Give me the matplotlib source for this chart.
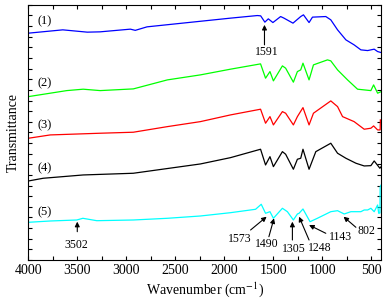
import numpy as np
import matplotlib
matplotlib.use("Agg")
from matplotlib import pyplot as plt
from matplotlib.ticker import MultipleLocator, NullFormatter

plt.rcParams['font.family'] = ['Liberation Serif', 'DejaVu Serif']
plt.rcParams['mathtext.fontset'] = 'stix'

# spectra: wavenumber (cm-1) and transmittance (arb. units, offset)
wn1 = [4000, 3650, 3400, 3270, 2960, 2910, 2790, 2350, 1938, 1664, 1630, 1587, 1552,
       1505, 1426, 1392, 1300, 1221, 1193, 1136, 1101, 965, 914, 845, 760, 676, 607,
       538, 471, 436, 400]
t1 = [226.7, 230, 227.7, 228, 230.7, 229.5, 233, 237.5, 241.7, 244.3, 244, 237.7, 241,
      237.3, 243.3, 241.7, 236.7, 243.3, 245, 237.3, 242.7, 243.3, 240, 230, 220, 215, 210,
      209.3, 210.7, 208.3, 207.3]

wn2 = [4000, 3609, 3442, 3268, 2930, 2582, 2245, 1938, 1631, 1580, 1535, 1500, 1408,
       1375, 1296, 1255, 1221, 1198, 1136, 1091, 948, 914, 845, 743, 641, 573, 505, 477,
       436, 400]
t2 = [163.3, 169.3, 170.7, 169.3, 171, 180, 185, 190.7, 196, 181.7, 188.3, 179, 194,
      191.7, 177.7, 188.3, 190, 196.7, 180, 195, 200, 199, 190, 180, 170.7, 170, 169.3, 175,
      166.7, 168.3]

wn3 = [4000, 3778, 3268, 2930, 2582, 2245, 1938, 1631, 1580, 1535, 1500, 1408, 1375,
       1296, 1255, 1198, 1136, 1091, 914, 845, 794, 676, 573, 505, 477, 436, 410, 408]
t3 = [121.7, 125, 126.7, 127.7, 133.3, 138.3, 145, 150.7, 136.7, 143.3, 135, 148.3, 146.7,
      135, 143.3, 152.3, 135, 146.7, 159, 153.3, 143.3, 138.3, 130.7, 131.7, 134, 130, 130,
      140]

wn4 = [4000, 3850, 3442, 2930, 2245, 1938, 1631, 1580, 1535, 1500, 1408, 1375, 1296,
       1255, 1221, 1198, 1136, 1067, 914, 845, 760, 657, 573, 505, 471, 413, 400]
t4 = [79, 81.7, 85, 86.7, 96, 102.3, 110.7, 95, 103.3, 93.3, 108.3, 105.7, 90.7,
      100.7, 101.7, 110.7, 90.7, 108.3, 116.7, 106.7, 101.7, 96.7, 94, 94.3, 99, 91.7, 93.3]

wn5 = [4000, 3778, 3507, 3445, 3303, 2930, 2582, 2245, 1938, 1682, 1624, 1580, 1535,
       1500, 1408, 1357, 1296, 1255, 1238, 1198, 1126, 1051, 914, 845, 777, 709, 607, 573,
       538, 505, 471, 436, 425, 412, 410, 400]
t5 = [37.7, 39, 40, 41.7, 39.3, 40, 41.7, 44, 47.3, 50.7, 55.7, 46.7, 48.3,
      41.7, 51.7, 48.3, 40, 46, 46.7, 51, 38.3, 41.7, 48.3, 49.3, 46, 48.3, 48.3, 50,
      50, 51.7, 48.3, 55, 46.7, 47, 73.3, 75]

series = [(wn1, t1, '#0000ff'), (wn2, t2, '#00ff00'), (wn3, t3, '#ff0000'),
          (wn4, t4, '#000000'), (wn5, t5, '#00ffff')]

curve_labels = ['(1)', '(2)', '(3)', '(4)', '(5)']
curve_label_y = [238.3, 176.7, 135, 91.7, 47.3]

# peak annotations: label, arrow head (wn, T), arrow tail (wn, T), text position (wn, T)
peaks = [
    ('1591', (1591, 235), (1591, 215), (1569, 208.3)),
    ('3502', (3502, 38.3), (3502, 28.3), (3507, 15)),
    ('1573', (1569, 43.3), (1733, 30), (1842, 20.7)),
    ('1490', (1494, 41.7), (1546, 23.3), (1569, 15.7)),
    ('1305', (1306, 38.3), (1306, 20), (1296, 10.7)),
    ('1248', (1238, 43.3), (1136, 20), (1024, 12.3)),
    ('1143', (1136, 35), (965, 26.7), (819, 23.3)),
    ('802', (784, 43.3), (658, 32.7), (549, 29)),
]

fig = plt.figure(figsize=(3.85, 3.02), dpi=100)
ax = fig.add_axes([0.074, 0.139, 0.916, 0.845])

for wn, t, c in series:
    ax.plot(wn, t, color=c, lw=0.9)

for lab, y in zip(curve_labels, curve_label_y):
    ax.text(3831, y, lab, fontsize=9, ha='center', va='center')

for lab, head, tail, pos in peaks:
    ax.annotate('', xy=head, xytext=tail,
                arrowprops=dict(arrowstyle='-|>', color='k', lw=0.8,
                                mutation_scale=7, shrinkA=0, shrinkB=0))
    ax.text(pos[0], pos[1], lab, fontsize=8.5, ha='center', va='center')

ax.set_xlim(4000, 400)
ax.set_ylim(0, 255)
ax.xaxis.set_major_locator(MultipleLocator(500))
ax.xaxis.set_minor_locator(MultipleLocator(250))
ax.yaxis.set_major_locator(MultipleLocator(255 / 24))
ax.yaxis.set_major_formatter(NullFormatter())
ax.tick_params(which='both', direction='in', top=True, right=True, length=3, width=0.8,
               labelsize=10, pad=3)
ax.set_xlabel('Wavenumber (cm$^{-1}$)', fontsize=10, labelpad=2)
ax.set_ylabel('Transmittance', fontsize=10, labelpad=3)

fig.savefig('out.png', dpi=100)
